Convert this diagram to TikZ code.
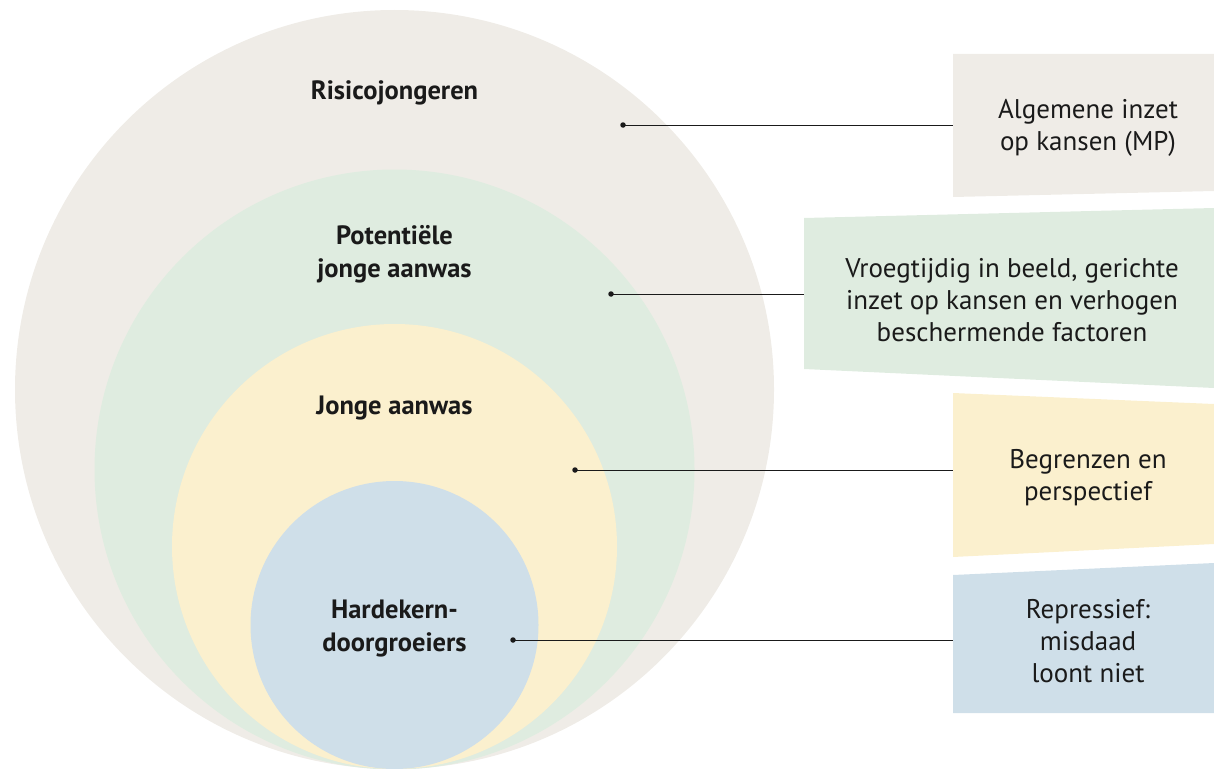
\documentclass[tikz,border=0pt]{standalone}
\usepackage{fontspec}
\setmainfont{PT Sans}
\definecolor{ink}{RGB}{26,26,26}
\definecolor{riskc}{RGB}{239,236,231}
\definecolor{potc}{RGB}{223,236,224}
\definecolor{youngc}{RGB}{251,240,206}
\definecolor{corec}{RGB}{207,223,233}

\begin{document}
\begin{tikzpicture}[x=1pt,y=-1pt,
    lbl/.style={font=\bfseries\fontsize{26.5}{33}\selectfont,align=center,text=ink,inner sep=0pt},
    txt/.style={font=\fontsize{27}{32}\selectfont,align=center,text=ink,inner sep=0pt},
    pin/.style={circle,fill=ink,inner sep=0pt,minimum size=5.5pt}]
      \pgfmathsetmacro{\cx}{394.5}
      \useasboundingbox (0,0) rectangle (1214,768);
      \clip (0,0) rectangle (1214,768);
      % rings, all touching at the bottom
      \fill[riskc] (\cx,389.5) circle[radius=379.5pt];
      \fill[potc] (\cx,469.5) circle[radius=300pt];
      \fill[youngc] (\cx,546.5) circle[radius=222.5pt];
      \fill[corec] (\cx,625) circle[radius=144pt];
      \node[lbl] (risk) at (\cx,93) {Risicojongeren};
      \node[lbl] (pot) at (\cx,254) {Potentiële\\jonge aanwas};
      \node[lbl] (young) at (\cx,408) {Jonge aanwas};
      \node[lbl] (core) at (\cx,629) {Hardekern-\\doorgroeiers};
      % boxes on the right
      \fill[riskc] (953,54) -- (1214,54) -- (1214,191) -- (953,197) -- cycle;
      \fill[potc] (804,218) -- (1214,208) -- (1214,388) -- (804,369) -- cycle;
      \fill[youngc] (953,393) -- (1214,404) -- (1214,544) -- (953,557) -- cycle;
      \fill[corec] (953,575) -- (1214,563) -- (1214,713) -- (953,713) -- cycle;
      \node[txt] (riskbox) at (1088,128) {Algemene inzet\\op kansen (MP)};
      \node[txt] (potbox) at (1012,300) {Vroegtijdig in beeld, gerichte\\inzet op kansen en verhogen\\beschermende factoren};
      \node[txt] (youngbox) at (1088,478) {Begrenzen en\\perspectief};
      \node[txt] (corebox) at (1088,641) {Repressief:\\misdaad\\loont niet};
      \coordinate (riskend) at (953,125);
      \coordinate (potend) at (804,294);
      \coordinate (youngend) at (953,470);
      \coordinate (coreend) at (953,640);
      % pins and leader lines
      \node[pin] (riskpin) at (623,125) {};
      \node[pin] (potpin) at (611,294) {};
      \node[pin] (youngpin) at (575,470) {};
      \node[pin] (corepin) at (513,640) {};
      \draw[ink,line width=1pt] (riskpin.center) -- (riskend);
      \draw[ink,line width=1pt] (potpin.center) -- (potend);
      \draw[ink,line width=1pt] (youngpin.center) -- (youngend);
      \draw[ink,line width=1pt] (corepin.center) -- (coreend);
    \end{tikzpicture}
\end{document}
